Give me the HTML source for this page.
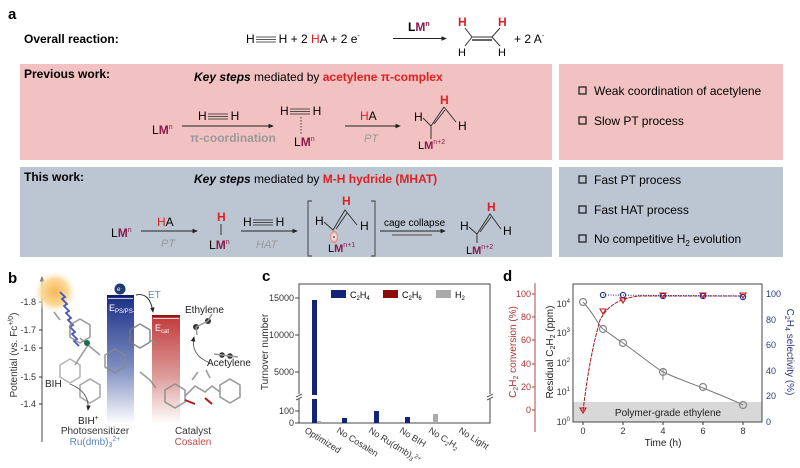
<!DOCTYPE html>
<html><head><meta charset="utf-8"><style>
html,body{margin:0;padding:0;background:#fff;}
svg{display:block;font-family:"Liberation Sans",Arial,sans-serif;}
</style></head><body>
<svg width="800" height="468" viewBox="0 0 800 468" xmlns="http://www.w3.org/2000/svg">
<defs>
<marker id="ar" markerWidth="6" markerHeight="6" refX="5" refY="3" orient="auto"><path d="M0,0.5 L6,3 L0,5.5 z" fill="#222"/></marker>
<linearGradient id="gb" x1="0" y1="0" x2="0" y2="1"><stop offset="0" stop-color="#1c2f86"/><stop offset="0.55" stop-color="#7b8cbf"/><stop offset="1" stop-color="#ffffff"/></linearGradient>
<linearGradient id="gr" x1="0" y1="0" x2="0" y2="1"><stop offset="0" stop-color="#c23a3a"/><stop offset="0.55" stop-color="#dc9a98"/><stop offset="1" stop-color="#ffffff"/></linearGradient>
<radialGradient id="sun" cx="0.5" cy="0.5" r="0.5"><stop offset="0" stop-color="#f7b955"/><stop offset="0.6" stop-color="#fbd99a"/><stop offset="1" stop-color="#fff" stop-opacity="0"/></radialGradient>
<radialGradient id="orb" cx="0.5" cy="0.5" r="0.5"><stop offset="0" stop-color="#fff"/><stop offset="0.6" stop-color="#f6c9c4"/><stop offset="1" stop-color="#e07a74"/></radialGradient>
</defs>

<!-- ===== Panel a ===== -->
<text x="8" y="19" font-size="15" font-weight="bold">a</text>
<text x="24" y="43" font-size="12" font-weight="bold">Overall reaction:</text>
<text x="246" y="43" font-size="12">H<tspan dx="24">H</tspan>  +  2 <tspan fill="#e02020">H</tspan>A  +  2 e<tspan font-size="7" dy="-5">-</tspan></text>
<g stroke="#222" stroke-width="0.8"><line x1="256" y1="37" x2="276" y2="37"/><line x1="256" y1="39.5" x2="276" y2="39.5"/><line x1="256" y1="42" x2="276" y2="42"/></g>
<line x1="393" y1="38.5" x2="446" y2="38.5" stroke="#222" stroke-width="0.9" marker-end="url(#ar)"/>
<text x="408" y="31" font-size="12" font-weight="bold">L<tspan fill="#8b1a4a">M</tspan><tspan font-size="7" dy="-5" fill="#8b1a4a">n</tspan></text>
<text x="458" y="26" font-size="12" font-weight="bold" fill="#e02020">H</text>
<text x="498" y="26" font-size="12" font-weight="bold" fill="#e02020">H</text>
<text x="458" y="56" font-size="11">H</text><text x="498" y="56" font-size="11">H</text>
<g stroke="#333" stroke-width="1" fill="none"><path d="M465,28 L472,37 L492,37 L500,28"/><line x1="472" y1="40" x2="492" y2="40" stroke="#666" stroke-width="2"/><path d="M472,37 L465,46 M492,37 L500,46"/></g>
<text x="514" y="43" font-size="12">+  2 A<tspan font-size="7" dy="-5">-</tspan></text>

<rect x="20" y="64" width="532" height="96" fill="#f2c2c2"/>
<rect x="559" y="64" width="224" height="96" fill="#f2c2c2"/>
<rect x="20" y="167" width="532" height="90" fill="#bcc6d3"/>
<rect x="559" y="167" width="224" height="90" fill="#bcc6d3"/>

<text x="24" y="78" font-size="12" font-weight="bold">Previous work:</text>
<text x="194" y="81" font-size="12"><tspan font-weight="bold" font-style="italic">Key steps</tspan> mediated by <tspan font-weight="bold" fill="#e02020">acetylene π-complex</tspan></text>
<text x="152" y="134" font-size="12">L<tspan fill="#8b1a4a" font-weight="bold">M</tspan><tspan font-size="7" dy="-5" fill="#8b1a4a">n</tspan></text>
<line x1="182" y1="126" x2="273" y2="126" stroke="#222" stroke-width="0.9" marker-end="url(#ar)"/>
<text x="198" y="120" font-size="12">H<tspan dx="24">H</tspan></text>
<g stroke="#222" stroke-width="0.8"><line x1="208" y1="114" x2="228" y2="114"/><line x1="208" y1="116.5" x2="228" y2="116.5"/><line x1="208" y1="119" x2="228" y2="119"/></g>
<text x="190" y="142" font-size="12" fill="#999" font-weight="bold">π-coordination</text>
<text x="280" y="115" font-size="12">H<tspan dx="24">H</tspan></text>
<g stroke="#222" stroke-width="0.8"><line x1="290" y1="109" x2="310" y2="109"/><line x1="290" y1="111.5" x2="310" y2="111.5"/><line x1="290" y1="114" x2="310" y2="114"/></g>
<line x1="301" y1="117" x2="301" y2="134" stroke="#222" stroke-width="0.8" stroke-dasharray="1.5,1.5"/>
<text x="294" y="146" font-size="12">L<tspan fill="#8b1a4a" font-weight="bold">M</tspan><tspan font-size="7" dy="-5" fill="#8b1a4a">n</tspan></text>
<line x1="345" y1="126" x2="400" y2="126" stroke="#222" stroke-width="0.9" marker-end="url(#ar)"/>
<text x="360" y="120" font-size="12"><tspan fill="#e02020">H</tspan>A</text>
<text x="364" y="142" font-size="11" fill="#999" font-style="italic">PT</text>
<text x="440" y="104" font-size="12" font-weight="bold" fill="#e02020">H</text>
<text x="414" y="121" font-size="12">H</text><text x="458" y="130" font-size="12">H</text>
<g stroke="#333" stroke-width="1" fill="none"><path d="M423,118 L431,126 L444,107 M444,107 L456,122 M431,126 L431,139"/><line x1="434" y1="124" x2="445" y2="110"/></g>
<text x="418" y="149" font-size="11">L<tspan fill="#8b1a4a" font-weight="bold">M</tspan><tspan font-size="7" dy="-5" fill="#8b1a4a">n+2</tspan></text>

<text x="24" y="181" font-size="12" font-weight="bold">This work:</text>
<text x="194" y="183" font-size="12"><tspan font-weight="bold" font-style="italic">Key steps</tspan> mediated by <tspan font-weight="bold" fill="#e02020">M-H hydride (MHAT)</tspan></text>
<text x="111" y="237" font-size="12">L<tspan fill="#8b1a4a" font-weight="bold">M</tspan><tspan font-size="7" dy="-5" fill="#8b1a4a">n</tspan></text>
<line x1="141" y1="231" x2="197" y2="231" stroke="#222" stroke-width="0.9" marker-end="url(#ar)"/>
<text x="157" y="226" font-size="12"><tspan fill="#e02020">H</tspan>A</text>
<text x="161" y="247" font-size="11" fill="#999" font-style="italic">PT</text>
<text x="217" y="221" font-size="12" font-weight="bold" fill="#e02020">H</text>
<line x1="221" y1="224" x2="221" y2="235" stroke="#333"/>
<text x="209" y="249" font-size="12">L<tspan fill="#8b1a4a" font-weight="bold">M</tspan><tspan font-size="7" dy="-5" fill="#8b1a4a">n</tspan></text>
<line x1="241" y1="231" x2="297" y2="231" stroke="#222" stroke-width="0.9" marker-end="url(#ar)"/>
<text x="243" y="226" font-size="12">H<tspan dx="24">H</tspan></text>
<g stroke="#222" stroke-width="0.8"><line x1="253" y1="220" x2="273" y2="220"/><line x1="253" y1="222.5" x2="273" y2="222.5"/><line x1="253" y1="225" x2="273" y2="225"/></g>
<text x="256" y="248" font-size="11" fill="#999" font-style="italic">HAT</text>
<path d="M312,201 L308,201 L308,256 L312,256 M371,201 L375,201 L375,256 L371,256" stroke="#333" fill="none" stroke-width="0.9"/>
<text x="342" y="205" font-size="12" font-weight="bold" fill="#e02020">H</text>
<text x="315" y="225" font-size="12">H</text><text x="360" y="230" font-size="12">H</text>
<g stroke="#333" stroke-width="1" fill="none"><path d="M324,222 L333,230 L345,210 L357,225"/><line x1="336" y1="229" x2="347" y2="213"/></g>
<ellipse cx="334" cy="237" rx="4" ry="6" fill="url(#orb)"/>
<circle cx="334" cy="237" r="0.9" fill="#222"/>
<text x="328" y="252" font-size="11">L<tspan fill="#8b1a4a" font-weight="bold">M</tspan><tspan font-size="7" dy="-5" fill="#8b1a4a">n+1</tspan></text>
<text x="384" y="226" font-size="10">cage collapse</text>
<line x1="380" y1="231" x2="445" y2="231" stroke="#222" stroke-width="0.9" marker-end="url(#ar)"/>
<line x1="392" y1="235" x2="432" y2="235" stroke="#777" stroke-width="1.4"/>
<text x="487" y="211" font-size="12" font-weight="bold" fill="#e02020">H</text>
<text x="460" y="230" font-size="12">H</text><text x="503" y="235" font-size="12">H</text>
<g stroke="#333" stroke-width="1" fill="none"><path d="M469,227 L477,234 L490,214 L501,229 M477,234 L477,243"/><line x1="480" y1="232" x2="491" y2="217"/></g>
<text x="466" y="254" font-size="11">L<tspan fill="#8b1a4a" font-weight="bold">M</tspan><tspan font-size="7" dy="-5" fill="#8b1a4a">n+2</tspan></text>

<g font-size="12">
<rect x="579" y="87" width="7" height="7" fill="none" stroke="#222" stroke-width="1.3"/><text x="594" y="95">Weak coordination of acetylene</text>
<rect x="579" y="117" width="7" height="7" fill="none" stroke="#222" stroke-width="1.3"/><text x="594" y="125">Slow PT process</text>
<rect x="579" y="176" width="7" height="7" fill="none" stroke="#222" stroke-width="1.3"/><text x="594" y="184">Fast PT process</text>
<rect x="579" y="206" width="7" height="7" fill="none" stroke="#222" stroke-width="1.3"/><text x="594" y="214">Fast HAT process</text>
<rect x="579" y="235" width="7" height="7" fill="none" stroke="#222" stroke-width="1.3"/><text x="594" y="243">No competitive H<tspan font-size="8" dy="3">2</tspan><tspan dy="-3"> evolution</tspan></text>
</g>

<!-- ===== Panel b ===== -->
<text x="8" y="283" font-size="15" font-weight="bold">b</text>
<line x1="42" y1="442" x2="42" y2="277" stroke="#333" stroke-width="0.9" marker-end="url(#ar)"/>
<g font-size="9" fill="#333" text-anchor="end">
<text x="36" y="305">-1.8</text><text x="36" y="333">-1.7</text><text x="36" y="351">-1.6</text><text x="36" y="380">-1.5</text><text x="36" y="407">-1.4</text>
</g>
<g stroke="#333"><line x1="39" y1="302" x2="42" y2="302"/><line x1="39" y1="330" x2="42" y2="330"/><line x1="39" y1="348" x2="42" y2="348"/><line x1="39" y1="377" x2="42" y2="377"/><line x1="39" y1="404" x2="42" y2="404"/></g>
<text transform="translate(17,355) rotate(-90)" font-size="10" text-anchor="middle" fill="#333">Potential (vs. Fc<tspan font-size="7" dy="-4">+/0</tspan><tspan dy="4">)</tspan></text>
<circle cx="55" cy="292" r="22" fill="url(#sun)"/>
<path d="M60,292 l5,5 l-3,2 l5,5 l-3,2 l5,5 l-3,2 l5,5 l-3,2 l5,5 l-3,2 l5,5 l-3,2 l5,5 l-3,2 l5,5" stroke="#4456c4" stroke-width="1.8" fill="none"/>
<rect x="107" y="296" width="27" height="128" fill="url(#gb)"/>
<line x1="107" y1="296" x2="134" y2="296" stroke="#0e1f66" stroke-width="2"/>
<line x1="108" y1="298.5" x2="133" y2="298.5" stroke="#fff" stroke-width="0.8"/>
<text x="109" y="311" font-size="9" fill="#fff">E<tspan font-size="6" dy="2">PS/PS-</tspan></text>
<circle cx="120" cy="289" r="5.5" fill="#1e3a6e"/><text x="117" y="291" font-size="6" fill="#fff">e<tspan font-size="4" dy="-2">-</tspan></text>
<text x="148" y="298" font-size="10" fill="#6a86b8">ET</text>
<path d="M136,295 Q150,292 153,312" stroke="#222" fill="none" stroke-width="0.9" marker-end="url(#ar)"/>
<rect x="152" y="316" width="28" height="108" fill="url(#gr)"/>
<line x1="152" y1="316" x2="180" y2="316" stroke="#8b1a1a" stroke-width="2"/>
<line x1="153" y1="318.5" x2="179" y2="318.5" stroke="#fff" stroke-width="0.8"/>
<text x="155" y="331" font-size="9" fill="#fff">E<tspan font-size="6" dy="2">cat</tspan></text>
<g stroke="#8a8a8a" stroke-width="1.6" fill="none" opacity="0.85">
<path d="M70,325 l10,-6 l10,6 l0,12 l-10,6 l-10,-6 z"/>
<path d="M105,355 l10,-6 l10,6 l0,12 l-10,6 l-10,-6 z"/>
<path d="M130,330 l10,-6 l10,6 l0,12 l-10,6 l-10,-6 z" stroke="#777"/>
<path d="M60,365 l10,-6 l10,6 l0,12 l-10,6 l-10,-6 z" stroke="#aaa"/>
<path d="M80,385 l10,-6 l10,6 l0,12 l-10,6 l-10,-6 z" stroke="#999"/>
<path d="M88,345 L80,338 M88,345 L100,355 M88,345 L75,365 M60,320 l-6,-8 M150,340 l8,4 M140,372 l10,8 M150,380 l6,8"/>
<path d="M165,390 l10,-6 l10,6 l0,12 l-10,6 l-10,-6 z"/>
<path d="M220,385 l10,-6 l10,6 l0,12 l-10,6 l-10,-6 z"/>
<path d="M185,396 L195,386 L205,392 L212,386 L220,392 M192,380 l6,-8 M210,378 l-4,-8"/>
</g>
<circle cx="87" cy="343" r="3" fill="#1a6b55"/>
<g stroke="#b01818" stroke-width="2"><line x1="185" y1="400" x2="195" y2="404"/><line x1="205" y1="398" x2="212" y2="404"/></g>
<g fill="#333"><circle cx="196" cy="327" r="3"/><circle cx="208" cy="321" r="3"/><circle cx="222" cy="355" r="2.8"/><circle cx="230" cy="356" r="2.8"/></g>
<g stroke="#999" stroke-width="1.5"><line x1="196" y1="327" x2="208" y2="321"/><line x1="196" y1="327" x2="197" y2="335"/><line x1="208" y1="321" x2="212" y2="314"/><line x1="214" y1="354" x2="238" y2="357"/></g>
<path d="M210,363 Q190,355 194,337" stroke="#555" fill="none" stroke-width="0.9" marker-end="url(#ar)"/>
<text x="185" y="313" font-size="10" fill="#222">Ethylene</text>
<text x="207" y="366" font-size="10" fill="#222">Acetylene</text>
<text x="45" y="387" font-size="10" fill="#222">BIH</text>
<path d="M70,384 Q90,392 88,410" stroke="#555" fill="none" stroke-width="0.9" marker-end="url(#ar)"/>
<text x="78" y="424" font-size="10" fill="#222">BIH<tspan font-size="7" dy="-4">+</tspan></text>
<text x="95" y="434" font-size="10" fill="#333" text-anchor="middle">Photosensitizer</text>
<text x="95" y="445" font-size="10" fill="#5a86c4" text-anchor="middle">Ru(dmb)<tspan font-size="7" dy="2">3</tspan><tspan font-size="7" dy="-6">2+</tspan></text>
<text x="193" y="434" font-size="10" fill="#333" text-anchor="middle">Catalyst</text>
<text x="193" y="445" font-size="10" fill="#c44a4a" text-anchor="middle">Cosalen</text>

<!-- ===== Panel c ===== -->
<text x="262" y="281" font-size="15" font-weight="bold">c</text>
<rect x="299" y="284" width="191" height="139" fill="none" stroke="#333" stroke-width="0.9"/>
<g stroke="#333" stroke-width="0.9"><line x1="295" y1="298" x2="299" y2="298"/><line x1="295" y1="335" x2="299" y2="335"/><line x1="295" y1="372" x2="299" y2="372"/><line x1="295" y1="411" x2="299" y2="411"/><line x1="295" y1="423" x2="299" y2="423"/></g>
<rect x="294" y="394" width="200" height="5" fill="#fff"/>
<g stroke="#333" stroke-width="0.8"><path d="M296,397 l6,-3 M296,400 l6,-3 M487,397 l6,-3 M487,400 l6,-3"/></g>
<g font-size="9" fill="#333" text-anchor="end"><text x="294" y="301">15000</text><text x="294" y="338">10000</text><text x="294" y="375">5000</text><text x="294" y="414">100</text><text x="294" y="426">0</text></g>
<text transform="translate(268,352) rotate(-90)" font-size="10" text-anchor="middle" fill="#333">Turnover number</text>
<rect x="312" y="300" width="5" height="95" fill="#14237a"/>
<rect x="312" y="399" width="5" height="24" fill="#14237a"/>
<rect x="317" y="421" width="4" height="2" fill="#aaa"/>
<rect x="342" y="418" width="5" height="5" fill="#14237a"/>
<rect x="374" y="411" width="5" height="12" fill="#14237a"/>
<rect x="405" y="417" width="5" height="6" fill="#14237a"/>
<rect x="433" y="414" width="5" height="9" fill="#aaa"/>
<rect x="331" y="290" width="15" height="8" fill="#14237a"/><text x="350" y="298" font-size="9">C<tspan font-size="6" dy="2">2</tspan><tspan dy="-2">H</tspan><tspan font-size="6" dy="2">4</tspan></text>
<rect x="383" y="290" width="15" height="8" fill="#8b0a0a"/><text x="402" y="298" font-size="9">C<tspan font-size="6" dy="2">2</tspan><tspan dy="-2">H</tspan><tspan font-size="6" dy="2">6</tspan></text>
<rect x="436" y="290" width="15" height="8" fill="#aaa"/><text x="455" y="298" font-size="9">H<tspan font-size="6" dy="2">2</tspan></text>
<g font-size="9" fill="#333">
<text transform="translate(304,432) rotate(32)">Optimized</text>
<text transform="translate(336,432) rotate(32)">No Cosalen</text>
<text transform="translate(368,432) rotate(32)">No Ru(dmb)<tspan font-size="6" dy="2">3</tspan><tspan font-size="6" dy="-5">2+</tspan></text>
<text transform="translate(399,432) rotate(32)">No BIH</text>
<text transform="translate(428,432) rotate(32)">No C<tspan font-size="6" dy="2">2</tspan><tspan dy="-2">H</tspan><tspan font-size="6" dy="2">2</tspan></text>
<text transform="translate(458,432) rotate(32)">No Light</text>
</g>

<!-- ===== Panel d ===== -->
<text x="503" y="281" font-size="15" font-weight="bold">d</text>
<line x1="535" y1="283" x2="535" y2="432" stroke="#a33" stroke-width="0.9"/>
<g stroke="#a33" stroke-width="0.9"><line x1="532" y1="294" x2="535" y2="294"/><line x1="532" y1="317" x2="535" y2="317"/><line x1="532" y1="340" x2="535" y2="340"/><line x1="532" y1="364" x2="535" y2="364"/><line x1="532" y1="387" x2="535" y2="387"/><line x1="532" y1="410" x2="535" y2="410"/></g>
<g font-size="9" fill="#a33" text-anchor="end"><text x="531" y="297">100</text><text x="531" y="320">80</text><text x="531" y="343">60</text><text x="531" y="367">40</text><text x="531" y="390">20</text><text x="531" y="413">0</text></g>
<text transform="translate(516,352) rotate(-90)" font-size="10" text-anchor="middle" fill="#a33">C<tspan font-size="7" dy="2">2</tspan><tspan dy="-2">H</tspan><tspan font-size="7" dy="2">2</tspan><tspan dy="-2"> conversion (%)</tspan></text>
<rect x="573" y="402" width="189" height="20" fill="#d8d8d8"/>
<text x="668" y="416" font-size="10" text-anchor="middle" fill="#222">Polymer-grade ethylene</text>
<rect x="573" y="284" width="189" height="138" fill="none" stroke="#333" stroke-width="0.9"/>
<g font-size="9" fill="#333" text-anchor="end"><text x="570" y="307">10<tspan font-size="6" dy="-4">4</tspan></text><text x="570" y="336">10<tspan font-size="6" dy="-4">3</tspan></text><text x="570" y="366">10<tspan font-size="6" dy="-4">2</tspan></text><text x="570" y="395">10<tspan font-size="6" dy="-4">1</tspan></text><text x="570" y="425">10<tspan font-size="6" dy="-4">0</tspan></text></g>
<text transform="translate(553,352) rotate(-90)" font-size="10" text-anchor="middle" fill="#222">Residual C<tspan font-size="7" dy="2">2</tspan><tspan dy="-2">H</tspan><tspan font-size="7" dy="2">2</tspan><tspan dy="-2">  (ppm)</tspan></text>
<g font-size="9" fill="#333" text-anchor="middle"><text x="583" y="434">0</text><text x="623" y="434">2</text><text x="663" y="434">4</text><text x="703" y="434">6</text><text x="743" y="434">8</text></g>
<g stroke="#333"><line x1="583" y1="422" x2="583" y2="425"/><line x1="623" y1="422" x2="623" y2="425"/><line x1="663" y1="422" x2="663" y2="425"/><line x1="703" y1="422" x2="703" y2="425"/><line x1="743" y1="422" x2="743" y2="425"/></g>
<text x="663" y="446" font-size="10" text-anchor="middle" fill="#222">Time (h)</text>
<g font-size="9" fill="#2a3a80"><text x="766" y="297">100</text><text x="766" y="323">80</text><text x="766" y="348">60</text><text x="766" y="374">40</text><text x="766" y="399">20</text><text x="766" y="425">0</text></g>
<text transform="translate(787,352) rotate(90)" font-size="10" text-anchor="middle" fill="#2a3a80">C<tspan font-size="7" dy="2">2</tspan><tspan dy="-2">H</tspan><tspan font-size="7" dy="2">4</tspan><tspan dy="-2"> selectivity (%)</tspan></text>
<path d="M583,302 C593,312 598,325 603,329 C613,336 618,340 623,343 C643,357 653,366 663,372 C683,381 693,384 703,388 C723,396 733,400 743,405" stroke="#777" fill="none" stroke-width="1"/>
<path d="M583,411 C588,370 593,345 600,320 C608,305 620,298 640,296 L743,296" stroke="#a01818" fill="none" stroke-width="1" stroke-dasharray="4,1"/>
<line x1="603" y1="295" x2="743" y2="296" stroke="#1a2a9a" stroke-width="1" stroke-dasharray="1,1.5"/>
<g fill="none" stroke="#888" stroke-width="1.2"><circle cx="583" cy="302" r="3.5"/><circle cx="603" cy="329" r="3.5"/><circle cx="623" cy="343" r="3.5"/><circle cx="663" cy="372" r="3.5"/><circle cx="703" cy="387" r="3.5"/><circle cx="743" cy="405" r="3.5"/></g>
<line x1="663" y1="368" x2="663" y2="380" stroke="#888"/>
<g fill="none" stroke="#1a2a9a" stroke-width="1.1"><circle cx="603" cy="295" r="2.6"/><circle cx="623" cy="295" r="2.6"/><circle cx="663" cy="296" r="2.6"/><circle cx="703" cy="296" r="2.6"/><circle cx="743" cy="297" r="2.6"/></g>
<g fill="none" stroke="#c01818" stroke-width="1.1"><path d="M580,408 h6 l-3,5 z"/><path d="M600,309 h6 l-3,5 z"/><path d="M620,298 h6 l-3,5 z"/><path d="M660,293 h6 l-3,5 z"/><path d="M700,293 h6 l-3,5 z"/><path d="M740,293 h6 l-3,5 z"/></g>
</svg>
</body></html>
